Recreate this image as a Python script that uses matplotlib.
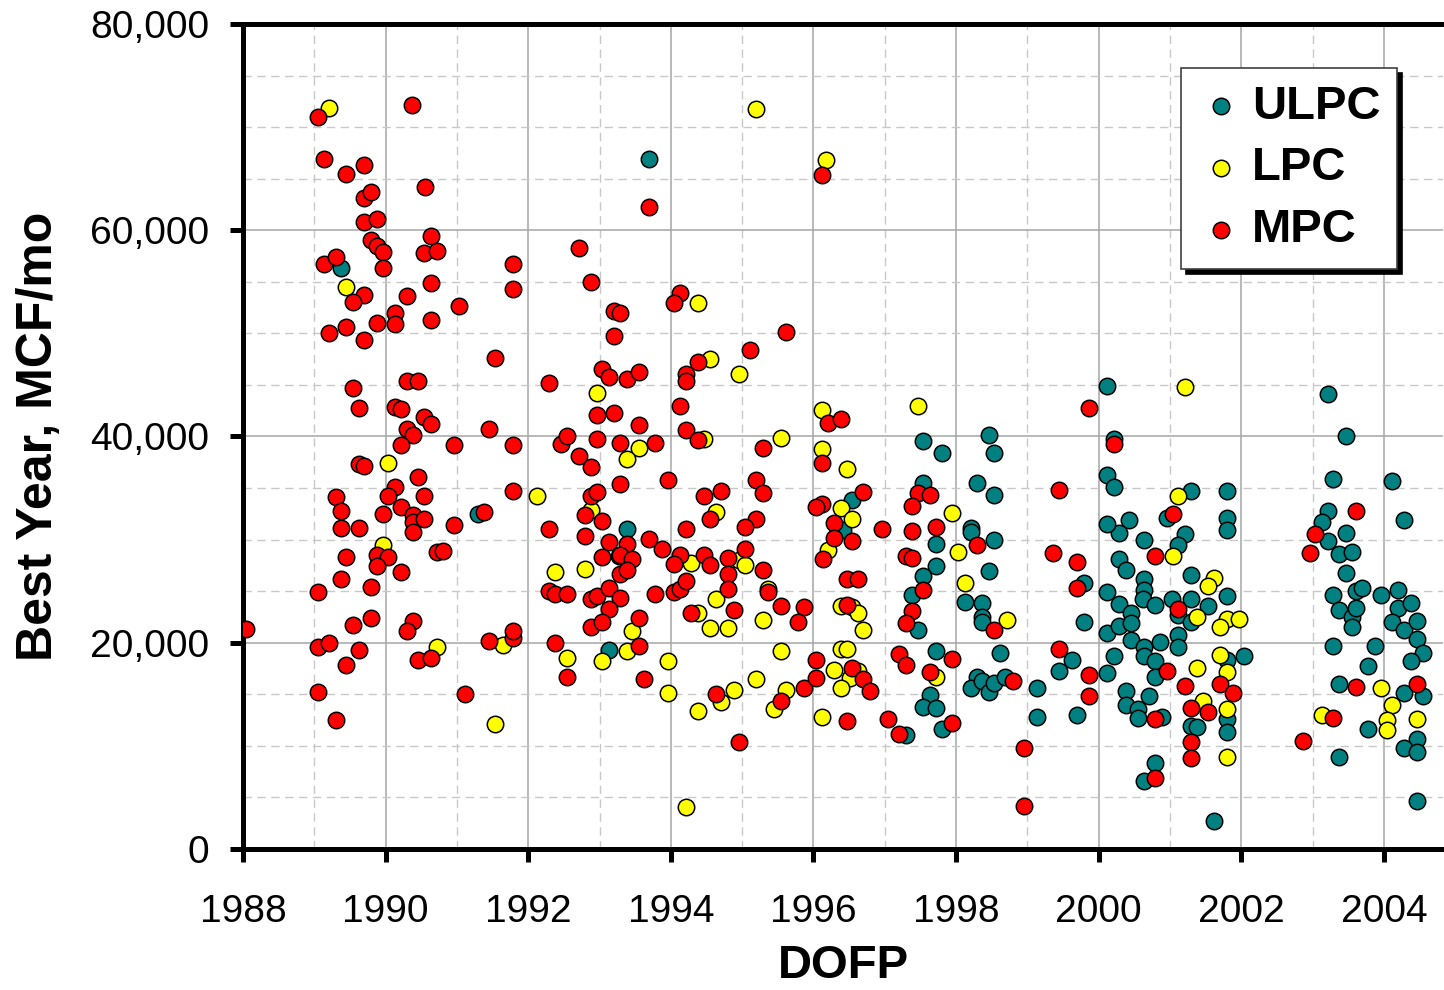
import matplotlib

matplotlib.use("Agg")
import matplotlib.pyplot as plt
from matplotlib.ticker import FuncFormatter, MultipleLocator

plt.rcParams["font.family"] = ["Liberation Sans", "DejaVu Sans"]

# date of first production (decimal year) and best-year rate (thousand MCF/mo)
ulpc_year = [
    1989.38, 1991.29, 1993.70, 1993.38, 1993.27, 1993.13,
    2000.12, 1997.54, 1997.80, 1998.46, 1998.53, 2000.21, 2000.12, 2000.21, 1998.29, 1998.53,
    1997.54, 1996.54, 1996.42, 1997.72, 1998.21, 1998.21, 1998.53, 1997.72, 1997.54, 1997.38,
    1997.46, 1998.12, 1998.37, 1998.37, 1998.37, 1998.46, 1999.79, 1999.79, 2000.12, 2000.29,
    2000.12, 2000.29, 2000.43, 2000.29, 2000.12, 2000.29, 2000.38, 1997.72, 1997.63, 1997.54,
    1997.72, 1997.80, 1997.30, 1998.62, 1998.29, 1998.21, 1998.37, 1998.46, 1998.53, 1998.69,
    1999.13, 1999.13, 1999.62, 1999.45, 1999.70, 2000.12, 2000.21, 2000.38, 2000.38,
    2003.22, 2003.47, 2003.29, 2004.12, 2001.29, 2001.80, 2000.96, 2000.63, 2001.21, 2001.80,
    2001.80, 2003.22, 2003.13, 2003.22, 2003.47, 2004.29, 2001.12, 2000.63, 2000.63, 2000.62,
    2001.29, 2001.80, 2000.79, 2001.03, 2001.29, 2001.12, 2001.54, 2001.29, 2000.46, 2000.46,
    2000.46, 2000.63, 2000.63, 2000.86, 2001.12, 2001.12, 2000.79, 2000.79, 2000.55, 2000.55,
    2000.71, 2000.89, 2001.80, 2002.04, 2001.29, 2001.38, 2001.80, 2001.80, 2000.79, 2000.63,
    2001.62, 2003.37, 2003.55, 2003.47, 2003.29, 2003.37, 2003.55, 2003.55, 2003.61, 2003.61,
    2003.70, 2003.96, 2004.20, 2004.20, 2004.38, 2004.12, 2004.29, 2004.46, 2004.46, 2004.55,
    2004.38, 2003.29, 2003.87, 2003.78, 2003.37, 2004.55, 2004.29, 2003.78, 2004.46, 2004.29,
    2004.46, 2003.37, 2004.46,
]
ulpc_rate = [
    56.3, 32.5, 66.9, 31.0, 28.4, 19.3,
    44.9, 39.6, 38.4, 40.1, 38.4, 39.8, 36.3, 35.1, 35.5, 34.3,
    35.5, 33.8, 30.9, 29.6, 31.1, 30.7, 30.0, 27.4, 26.5, 24.6,
    21.2, 24.0, 23.9, 22.5, 22.0, 27.0, 25.8, 22.0, 24.9, 23.8,
    20.9, 21.6, 31.9, 30.6, 31.5, 28.1, 27.1, 19.2, 14.9, 13.8,
    13.7, 11.6, 11.1, 19.0, 16.7, 15.6, 16.3, 15.2, 16.1, 16.7,
    15.6, 12.8, 18.3, 17.3, 13.0, 17.1, 18.7, 15.3, 14.0,
    44.1, 40.0, 35.9, 35.7, 34.7, 34.7, 32.1, 30.0, 30.5, 32.1,
    30.9, 32.8, 31.7, 29.9, 30.6, 31.9, 29.5, 26.2, 25.1, 24.2,
    26.6, 24.5, 23.7, 24.2, 24.2, 22.7, 23.6, 22.0, 22.9, 21.9,
    20.3, 19.6, 18.7, 20.1, 20.8, 19.6, 18.2, 16.7, 13.6, 12.7,
    14.8, 12.8, 18.3, 18.7, 11.9, 11.8, 12.6, 11.3, 8.3, 6.6,
    2.7, 28.6, 28.8, 26.8, 24.6, 23.2, 22.5, 21.5, 23.4, 25.0,
    25.3, 24.6, 25.1, 23.4, 23.9, 22.0, 21.2, 22.1, 20.4, 19.0,
    18.2, 19.7, 19.7, 17.7, 16.0, 14.8, 15.1, 11.6, 10.7, 9.8,
    9.4, 8.9, 4.7,
]

lpc_year = [
    1989.21, 1989.45, 1990.04, 1989.96, 1990.72, 1991.64, 1991.54, 1992.12,
    1996.18, 1995.20, 1994.38, 1994.55, 1994.96, 1992.96, 1996.12, 1995.54, 1994.46, 1993.55,
    1993.38, 1996.12, 1992.88, 1994.63, 1992.37, 1992.79, 1994.29, 1994.96, 1995.04, 1994.63,
    1995.37, 1994.38, 1994.55, 1994.80, 1995.29, 1993.46, 1992.54, 1993.04, 1993.38, 1993.96,
    1993.96, 1994.38, 1994.71, 1994.88, 1995.20, 1995.54, 1995.45, 1995.62, 1996.12, 1994.21,
    1997.46, 1996.47, 1997.95, 1996.38, 1996.54, 1996.21, 1998.03, 1998.12, 1998.71, 1996.38,
    1996.54, 1996.62, 1996.70, 1996.38, 1996.47, 1996.29, 1996.62, 1996.51, 1996.38, 1997.72,
    2001.21, 2001.12, 2001.04, 2001.62, 2001.54, 2001.38, 2001.80, 2001.97, 2001.70, 2001.38,
    2001.46, 2001.70, 2001.80, 2001.80, 2001.80, 2003.96, 2004.12, 2004.04, 2004.04, 2004.46,
    2003.13,
]
lpc_rate = [
    71.9, 54.5, 37.4, 29.5, 19.6, 19.8, 12.1, 34.2,
    66.8, 71.8, 52.9, 47.5, 46.1, 44.2, 42.6, 39.9, 39.8, 38.9,
    37.8, 38.8, 32.9, 32.7, 26.9, 27.2, 27.7, 28.0, 27.5, 24.2,
    25.2, 22.9, 21.4, 21.4, 22.2, 21.1, 18.5, 18.2, 19.2, 18.2,
    15.1, 13.4, 14.3, 15.4, 16.5, 19.2, 13.6, 15.4, 12.8, 4.1,
    43.0, 36.8, 32.6, 33.1, 32.0, 29.0, 28.8, 25.8, 22.2, 23.6,
    23.5, 22.9, 21.2, 19.4, 19.4, 17.4, 17.3, 16.6, 15.6, 16.7,
    44.8, 34.2, 28.4, 26.3, 25.5, 22.5, 22.3, 22.3, 21.5, 17.6,
    14.4, 18.8, 17.2, 13.6, 8.9, 15.6, 14.0, 12.5, 11.5, 12.6,
    13.0,
]

mpc_year = [
    1988.04, 1989.05, 1989.13, 1989.45, 1989.70, 1990.37, 1990.55, 1989.70, 1989.79, 1989.70,
    1989.88, 1990.63, 1989.79, 1989.88, 1989.96, 1990.54, 1990.72, 1989.13, 1989.30, 1989.96,
    1991.79, 1990.63, 1991.79, 1989.70, 1989.54, 1990.30, 1991.03, 1990.13, 1989.88, 1990.13,
    1990.63, 1989.21, 1989.45, 1989.70, 1991.54, 1989.54, 1989.62, 1990.30, 1990.46, 1990.13,
    1990.21, 1990.54, 1990.63, 1990.30, 1990.38, 1991.45, 1990.21, 1990.96, 1991.79, 1989.62,
    1989.70, 1990.46, 1990.13, 1989.30, 1990.04, 1990.54, 1991.79, 1989.38, 1990.21, 1989.96,
    1990.38, 1990.38, 1990.54, 1991.38, 1990.96, 1989.38, 1989.62, 1990.38, 1990.72, 1990.81,
    1989.45, 1989.88, 1990.04, 1989.88, 1990.21, 1989.38, 1989.79, 1989.05, 1989.79, 1990.38,
    1989.54, 1990.30, 1989.05, 1989.21, 1989.62, 1990.46, 1990.63, 1989.45, 1991.45, 1991.79,
    1991.79, 1989.05, 1991.12, 1989.30,
    1993.70, 1996.12, 1992.71, 1992.88, 1994.13, 1994.04, 1993.21, 1993.29, 1993.21, 1995.62,
    1995.11, 1994.38, 1994.21, 1994.21, 1993.04, 1993.13, 1993.38, 1993.55, 1992.29, 1994.13,
    1992.96, 1993.21, 1993.55, 1994.21, 1994.38, 1992.46, 1992.54, 1992.96, 1993.29, 1993.78,
    1995.29, 1992.71, 1992.88, 1996.12, 1993.29, 1993.96, 1992.88, 1992.96, 1992.79, 1993.04,
    1994.46, 1994.71, 1995.20, 1995.29, 1994.55, 1995.20, 1995.04, 1996.12, 1996.04, 1992.29,
    1992.79, 1994.21, 1993.13, 1993.38, 1993.70, 1993.88, 1993.04, 1993.29, 1993.46, 1993.29,
    1993.38, 1994.13, 1994.04, 1994.46, 1994.55, 1994.80, 1994.80, 1995.04, 1995.29, 1992.29,
    1992.37, 1992.54, 1992.88, 1992.96, 1993.13, 1993.29, 1993.13, 1993.78, 1994.04, 1994.13,
    1994.21, 1994.80, 1995.37, 1995.54, 1995.87, 1995.79, 1994.88, 1994.29, 1992.88, 1993.04,
    1993.55, 1992.37, 1992.54, 1993.55, 1993.63, 1994.63, 1995.54, 1995.87, 1996.04, 1996.04,
    1994.96,
    1996.21, 1996.38, 1999.87, 2000.21, 1999.45, 1997.46, 1997.63, 1997.38, 1996.96, 1997.38,
    1997.72, 1996.70, 1996.29, 1996.29, 1996.54, 1996.14, 1998.29, 1997.30, 1997.38, 1997.54,
    1997.38, 1997.30, 1998.53, 1999.36, 1999.70, 1999.70, 1996.47, 1996.62, 1996.47, 1996.54,
    1996.70, 1996.79, 1996.47, 1997.04, 1997.20, 1997.20, 1997.30, 1997.95, 1997.63, 1997.95,
    1998.80, 1998.96, 1998.96, 1999.45, 1999.87, 1999.87,
    2001.04, 2003.61, 2003.04, 2002.96, 2000.79, 2001.12, 2000.96, 2001.21, 2001.70, 2001.88,
    2001.29, 2001.54, 2001.29, 2001.29, 2000.79, 2000.79, 2003.61, 2004.46, 2003.29, 2002.87,
]
mpc_rate = [
    21.3, 71.0, 66.9, 65.5, 66.3, 72.1, 64.2, 63.1, 63.7, 60.8,
    61.1, 59.4, 59.1, 58.5, 57.9, 57.8, 58.0, 56.7, 57.4, 56.3,
    56.7, 54.9, 54.3, 53.7, 53.0, 53.6, 52.7, 52.0, 51.0, 50.9,
    51.3, 50.0, 50.6, 49.4, 47.6, 44.7, 42.8, 45.4, 45.4, 42.9,
    42.7, 41.9, 41.2, 40.7, 40.1, 40.7, 39.2, 39.2, 39.2, 37.3,
    37.1, 36.1, 35.1, 34.1, 34.2, 34.2, 34.7, 32.8, 33.2, 32.5,
    32.4, 31.7, 32.0, 32.7, 31.4, 31.1, 31.1, 30.7, 28.8, 28.9,
    28.3, 28.5, 28.3, 27.4, 26.9, 26.2, 25.4, 24.9, 22.4, 22.1,
    21.7, 21.1, 19.6, 20.0, 19.3, 18.3, 18.5, 17.8, 20.2, 20.5,
    21.1, 15.2, 15.0, 12.5,
    62.3, 65.4, 58.3, 55.0, 53.9, 52.9, 52.2, 52.0, 49.7, 50.1,
    48.4, 47.2, 46.1, 45.4, 46.5, 45.8, 45.6, 46.3, 45.2, 43.0,
    42.1, 42.3, 41.1, 40.6, 39.7, 39.3, 40.0, 39.8, 39.4, 39.4,
    38.9, 38.1, 37.0, 37.4, 35.4, 35.8, 34.2, 34.6, 32.4, 31.8,
    34.2, 34.7, 35.8, 34.5, 32.0, 32.0, 31.2, 33.5, 33.2, 31.0,
    30.4, 31.0, 29.8, 29.6, 30.1, 29.1, 28.3, 28.5, 28.1, 26.7,
    27.1, 28.5, 27.6, 28.5, 27.5, 28.2, 26.7, 29.1, 27.1, 25.0,
    24.7, 24.7, 24.2, 24.5, 25.3, 24.3, 23.3, 24.7, 24.9, 25.2,
    26.0, 25.2, 24.9, 23.6, 23.5, 22.0, 23.2, 22.9, 21.5, 22.0,
    22.4, 20.0, 16.7, 19.7, 16.5, 15.0, 14.4, 15.6, 18.3, 16.6,
    10.4,
    41.3, 41.7, 42.8, 39.3, 34.8, 34.5, 34.3, 33.3, 31.0, 30.8,
    31.2, 34.6, 31.6, 30.2, 29.9, 28.1, 29.5, 28.4, 28.2, 25.1,
    23.1, 21.9, 21.2, 28.7, 27.8, 25.3, 26.2, 26.2, 23.7, 17.6,
    16.5, 15.3, 12.4, 12.6, 11.2, 18.9, 17.8, 18.4, 17.2, 12.2,
    16.3, 9.8, 4.2, 19.4, 16.9, 14.8,
    32.5, 32.8, 30.5, 28.7, 28.4, 23.3, 17.3, 15.8, 16.0, 15.1,
    13.7, 13.3, 10.4, 8.8, 6.9, 12.6, 15.7, 16.0, 12.7, 10.5,
]

SERIES = (
    ("ULPC", ulpc_year, ulpc_rate, "#008080"),
    ("LPC", lpc_year, lpc_rate, "#ffff00"),
    ("MPC", mpc_year, mpc_rate, "#ff0000"),
)

fig = plt.figure(figsize=(14.44, 9.9), dpi=100)
ax = fig.add_axes([243 / 1444, 141 / 990, 1200 / 1444, 825 / 990])

for name, years, rates, color in SERIES:
  ax.scatter(years, [r * 1000 for r in rates], s=140, c=color,
             edgecolors="black", linewidths=1.1, label=name, zorder=3)

ax.set_xlim(1988, 2004.83)
ax.set_ylim(0, 80000)
ax.xaxis.set_major_locator(MultipleLocator(2))
ax.xaxis.set_minor_locator(MultipleLocator(1))
ax.yaxis.set_major_locator(MultipleLocator(20000))
ax.yaxis.set_minor_locator(MultipleLocator(5000))
ax.yaxis.set_major_formatter(FuncFormatter(lambda v, _: f"{v:,.0f}"))

ax.set_axisbelow(True)
ax.grid(which="major", color="#a6a6a6", linewidth=1.1, linestyle="-")
ax.grid(which="minor", color="#c8c8c8", linewidth=1.0, linestyle=(0, (6, 4)))

for side in ("left", "bottom", "top"):
  ax.spines[side].set_linewidth(3.6)
  ax.spines[side].set_color("black")
ax.spines["right"].set_visible(False)

ax.tick_params(which="major", direction="out", length=9.5, width=3.6,
               labelsize=28, top=False, right=False)
ax.tick_params(axis="y", which="major", pad=15)
ax.tick_params(axis="x", which="major", pad=23)
ax.tick_params(which="minor", length=0)

ax.set_xlabel("DOFP", fontsize=34, fontweight="bold", labelpad=10)
ax.set_ylabel("Best Year, MCF/mo", fontsize=36, fontweight="bold", labelpad=20)

leg = ax.legend(loc="upper right", bbox_to_anchor=(0.9617, 0.9467),
                borderaxespad=0, fancybox=False, framealpha=1,
                edgecolor="#404040", prop={"size": 34, "weight": "bold"},
                handletextpad=0.15, labelspacing=0.38, borderpad=0.35,
                handlelength=1.0, markerscale=1.0,
                shadow={"color": "black", "alpha": 1, "ox": 3.5, "oy": -3.5})
leg.get_frame().set_linewidth(1.2)

fig.savefig("out.png", dpi=100)
